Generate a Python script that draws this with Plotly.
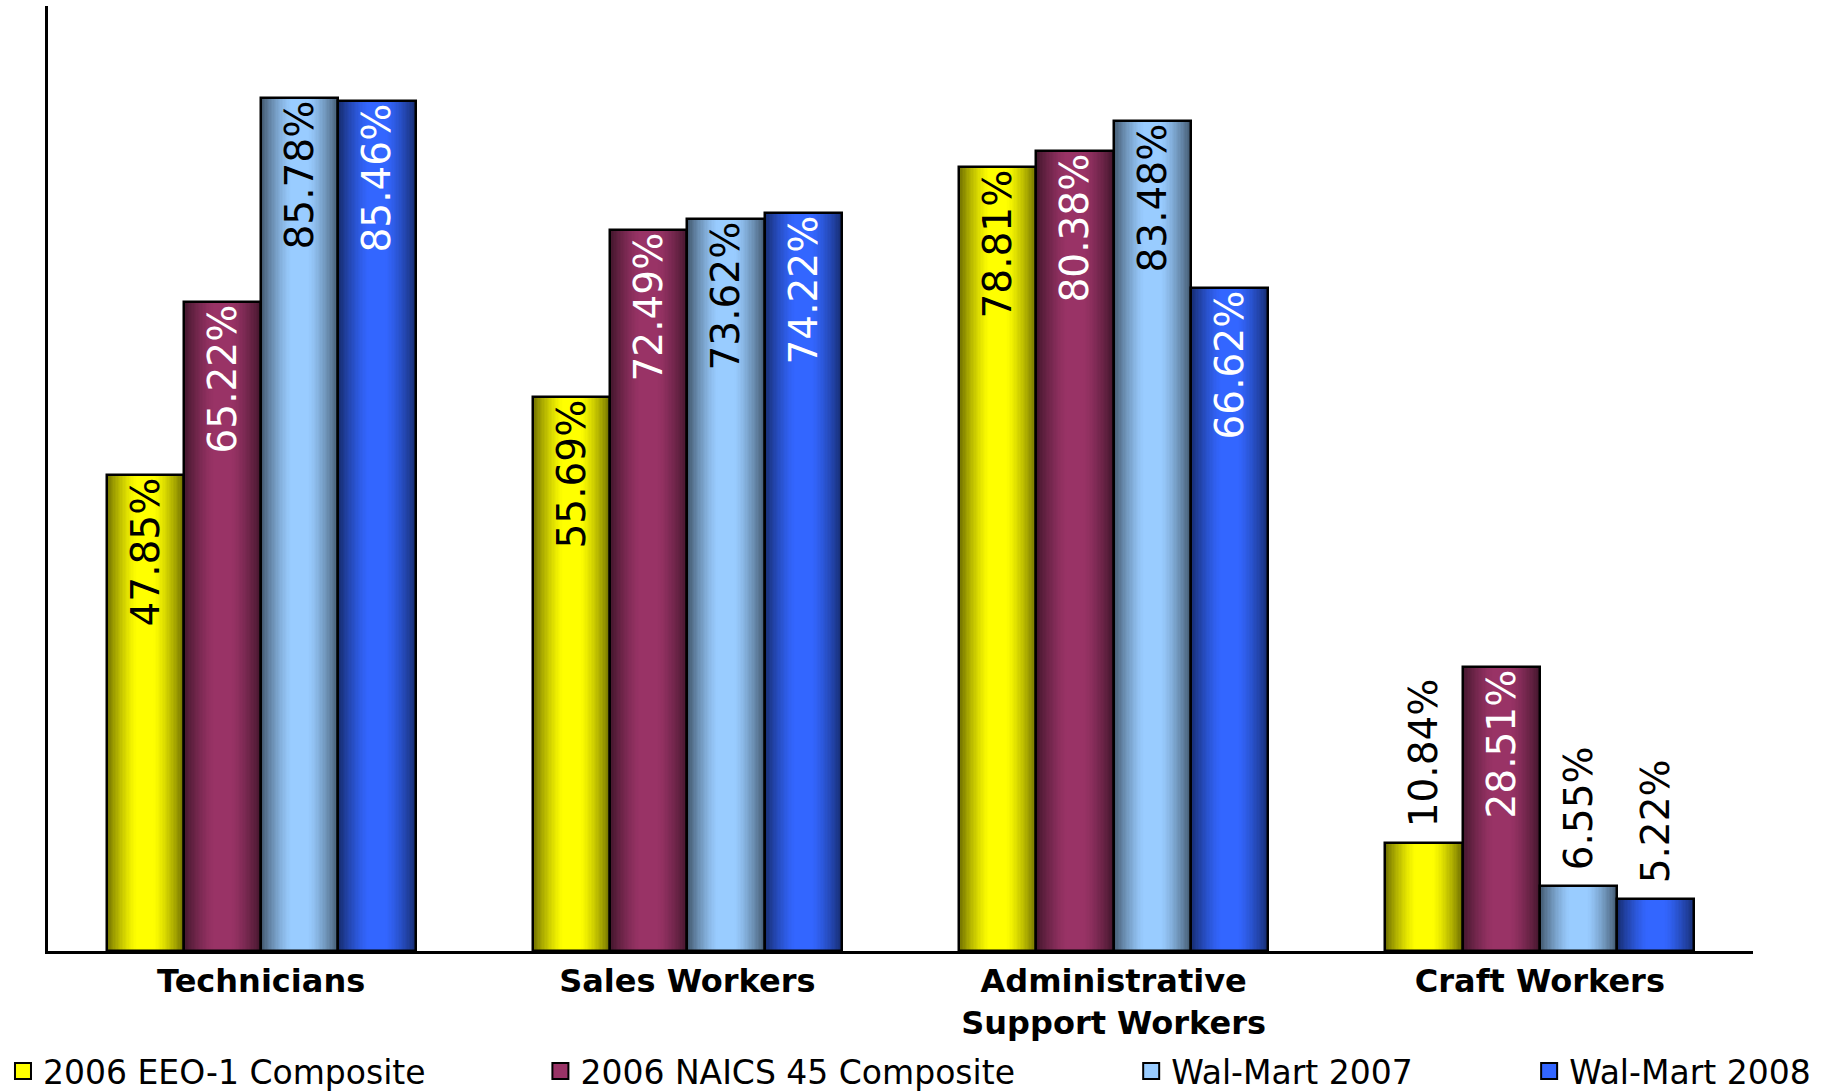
import plotly.graph_objects as go

# Share of women by job category (%)
categories = ["Technicians", "Sales Workers", "Administrative<br>Support Workers", "Craft Workers"]
series_names = ["2006 EEO-1 Composite", "2006 NAICS 45 Composite", "Wal-Mart 2007", "Wal-Mart 2008"]
eeo1_2006 = [47.85, 55.69, 78.81, 10.84]
naics45_2006 = [65.22, 72.49, 80.38, 28.51]
walmart_2007 = [85.78, 73.62, 83.48, 6.55]
walmart_2008 = [85.46, 74.22, 66.62, 5.22]
series_values = [eeo1_2006, naics45_2006, walmart_2007, walmart_2008]

# Bar face colours (centre of the cylinder) and label colour inside the bar
centre_rgb = [(255, 255, 0), (153, 51, 102), (153, 204, 255), (51, 102, 255)]
inside_label_color = ["black", "white", "black", "white"]

FONT = "DejaVu Sans"
LABEL_SIZE = 39
x_pos = list(range(len(categories)))
bar_w = 0.1813
group_left = -2 * bar_w
n_strips = 28
# bars shorter than this carry their label above the bar
min_inside_value = 16


def shade(rgb, t):
    """Colour at normalised distance t from the bar centre (0 centre, 1 edge)."""
    k = max(0.0, (t - 0.22) / 0.78)
    f = 1 - 0.55 * k ** 1.4
    return "rgb({},{},{})".format(*[int(round(c * f)) for c in rgb])


def label(v):
    # labels above short bars get a small lead-in gap from the bar top
    txt = f"{v:.2f}%"
    return txt if v >= min_inside_value else "\u00a0" + txt


fig = go.Figure()

for i, (name, vals) in enumerate(zip(series_names, series_values)):
    centre_off = group_left + (i + 0.5) * bar_w
    # nested strips, widest (darkest) first, giving a cylindrical shading
    for k in range(n_strips):
        t = 1 - k / n_strips
        w = bar_w * t
        fig.add_trace(go.Bar(
            x=x_pos, y=vals, width=w, offset=centre_off - w / 2,
            marker=dict(color=shade(centre_rgb[i], t), line=dict(width=0)),
            showlegend=False, hoverinfo="skip",
        ))
    # outline + value labels on top
    fig.add_trace(go.Bar(
        x=x_pos, y=vals, width=bar_w, offset=group_left + i * bar_w,
        marker=dict(color="rgba(0,0,0,0)", line=dict(color="black", width=2.5)),
        text=[label(v) for v in vals],
        textposition=["inside" if v >= min_inside_value else "outside" for v in vals],
        textangle=-90, insidetextanchor="end",
        constraintext="none", cliponaxis=False,
        insidetextfont=dict(family=FONT, size=LABEL_SIZE, color=inside_label_color[i]),
        outsidetextfont=dict(family=FONT, size=LABEL_SIZE, color="black"),
        showlegend=False, hoverinfo="skip",
    ))

# legend entries, one legend box per series
legend_x = [-0.0264, 0.2888, 0.6353, 0.8687]
legend_ids = ["legend", "legend2", "legend3", "legend4"]
for i, name in enumerate(series_names):
    fig.add_trace(go.Scatter(
        x=[None], y=[None], name=name, legend=legend_ids[i], mode="markers",
        marker=dict(symbol="square", size=18,
                    color="rgb({},{},{})".format(*centre_rgb[i]),
                    line=dict(color="black", width=2)),
        hoverinfo="skip",
    ))

layout_legends = {}
for i, lid in enumerate(legend_ids):
    layout_legends[lid] = dict(
        x=legend_x[i], y=-0.127, xanchor="left", yanchor="middle",
        orientation="h", font=dict(family=FONT, size=33, color="black"),
        bgcolor="rgba(0,0,0,0)", borderwidth=0,
    )

fig.update_layout(
    width=1837, height=1091,
    margin=dict(l=47.5, r=84, t=6, b=140, autoexpand=False),
    paper_bgcolor="white", plot_bgcolor="white",
    barmode="overlay", bargap=0,
    font=dict(family=FONT, color="black"),
    xaxis=dict(
        range=[-0.5, 3.5], tickvals=x_pos, ticktext=categories,
        showline=True, linecolor="black", linewidth=2.5,
        showgrid=False, zeroline=False, ticks="",
        tickfont=dict(family=FONT, size=32, color="black", weight="bold"),
    ),
    yaxis=dict(
        range=[0, 95], showline=True, linecolor="black", linewidth=2.5,
        showgrid=False, zeroline=False, showticklabels=False, ticks="",
    ),
    **layout_legends,
)

fig.write_html("out.html")
